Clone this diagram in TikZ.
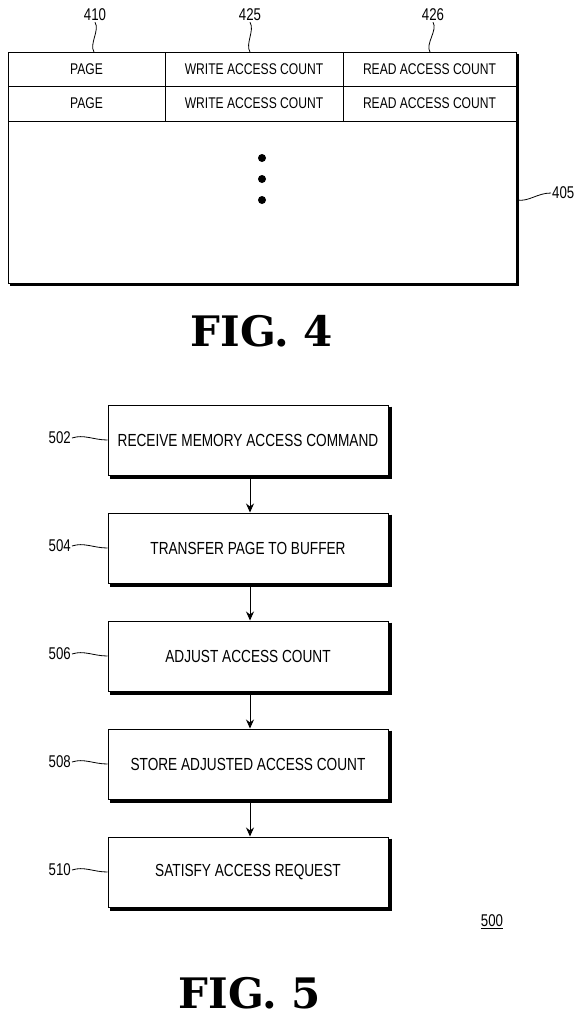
\documentclass[tikz,border=0pt]{standalone}
\usepackage{fontspec}
\setmainfont{Liberation Sans}
\newfontfamily\narrowfont[FakeStretch=0.78]{Liberation Sans}
\newfontfamily\figfont{DejaVu Serif}
\usetikzlibrary{arrows.meta,positioning}

\tikzset{
  cell/.style={inner sep=0pt, font=\narrowfont\fontsize{15.5}{18}\selectfont},
  stepbox/.style={draw, line width=1pt, minimum width=280pt, minimum height=70pt,
    inner sep=0pt, font=\narrowfont\fontsize{17.5}{20}\selectfont},
  shadowline/.style={line width=3pt},
  reflabel/.style={inner sep=1pt, font=\narrowfont\fontsize{17}{20}\selectfont},
  leader/.style={line width=0.8pt},
  flow/.style={-{Stealth[length=9pt,width=8pt]}, line width=1pt},
  figlabel/.style={inner sep=0pt, font=\figfont\bfseries\fontsize{42}{46}\selectfont}
}

\begin{document}
\begin{tikzpicture}[x=1pt, y=-1pt]
  \useasboundingbox (0,0) rectangle (585,1018);

  % FIG. 4 -- page table
  \coordinate (tl) at (8,52);
  \coordinate (br) at (516,283);
  \draw[line width=1pt] (tl) rectangle (br);
  \draw[shadowline] ([shift={(1.5,2)}]br |- tl) -- ([shift={(1.5,1.5)}]br)
    -- ([shift={(2,1.5)}]tl |- br);
  \foreach \y in {86,121}
    \draw[line width=1pt] (8,\y) -- (516,\y);
  \foreach \x in {165,343}
    \draw[line width=1pt] (\x,52) -- (\x,121);
  \foreach \r/\y in {1/69,2/103.5} {
    \node[cell] (page\r) at (86.5,\y) {PAGE};
    \node[cell] (write\r) at (254,\y) {WRITE ACCESS COUNT};
    \node[cell] (read\r) at (429.5,\y) {READ ACCESS COUNT};
  }
  \foreach \d/\y in {1/158,2/179,3/200}
    \fill (262,\y) circle (4pt) coordinate (dot\d);

  % reference numerals
  \node[reflabel] (l410) at (95,15) {410};
  \node[reflabel] (l425) at (250,15) {425};
  \node[reflabel] (l426) at (433,15) {426};
  \coordinate (t410) at (94,52);
  \coordinate (t425) at (250,52);
  \coordinate (t426) at (430,52);
  \foreach \n in {410,425,426}
    \draw[leader] (l\n.south) .. controls +(5,8) and +(-5,-8) .. (t\n);
  \node[reflabel, anchor=west] (l405) at (551,193) {405};
  \coordinate (t405) at (517,200);
  \draw[leader] (l405.west) .. controls +(-14,0) and +(12,2) .. (t405);

  \node[figlabel] (fig4) at (262,331) {FIG. 4};

  % FIG. 5 -- flow chart
  \foreach \n/\t [count=\i] in {502/RECEIVE MEMORY ACCESS COMMAND,
      504/TRANSFER PAGE TO BUFFER,
      506/ADJUST ACCESS COUNT,
      508/STORE ADJUSTED ACCESS COUNT,
      510/SATISFY ACCESS REQUEST} {
    \node[stepbox] (s\n) at (248,{440+108*(\i-1)}) {\t};
    \draw[shadowline] ([shift={(1.5,2)}]s\n.north east) |- ([shift={(2,1.5)}]s\n.south west);
    \node[reflabel, anchor=east] (l\n) at (72,{438+108*(\i-1)}) {\n};
    \draw[leader] (l\n.east) .. controls +(12,-4) and +(-14,0) .. (s\n.west);
  }
  \foreach \a/\b in {502/504,504/506,506/508,508/510}
    \draw[flow] ([shift={(2,3)}]s\a.south) -- ([xshift=2pt]s\b.north);

  \node[reflabel] (l500) at (492,922) {\underline{500}};
  \node[figlabel] (fig5) at (250,993) {FIG. 5};
\end{tikzpicture}
\end{document}
